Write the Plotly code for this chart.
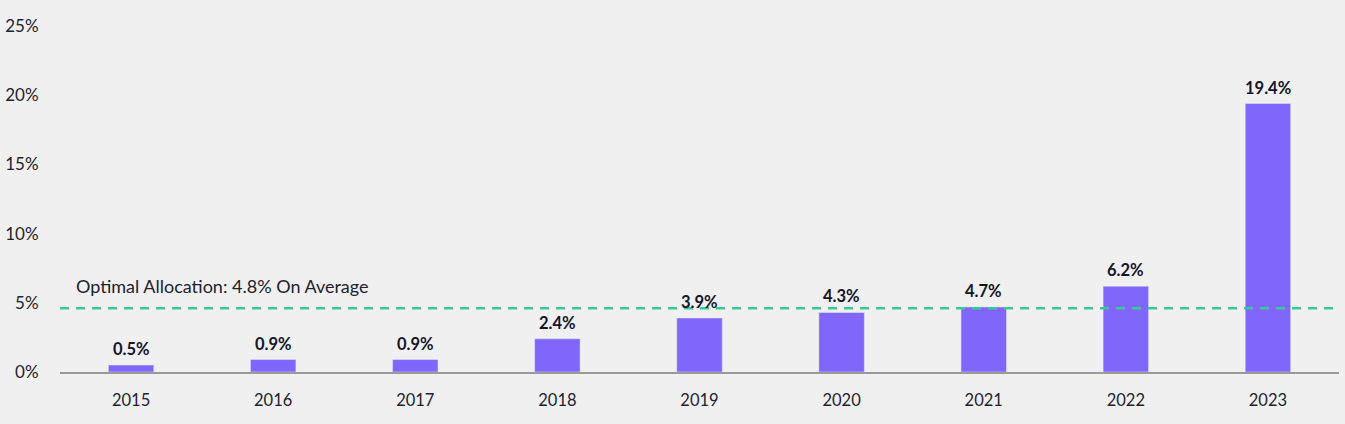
import plotly.graph_objects as go

years = ["2015", "2016", "2017", "2018", "2019", "2020", "2021", "2022", "2023"]
values = [0.5, 0.9, 0.9, 2.4, 3.9, 4.3, 4.7, 6.2, 19.4]
labels = ["0.5%", "0.9%", "0.9%", "2.4%", "3.9%", "4.3%", "4.7%", "6.2%", "19.4%"]
avg_line = 4.6
avg_text = "Optimal Allocation: 4.8% On Average"
y_ticks = [0, 5, 10, 15, 20, 25]
y_ticklabels = ["0%", "5%", "10%", "15%", "20%", "25%"]

BG = "#f0f0f0"
FONT = "Lato, 'Open Sans', sans-serif"
TXT = "#22222e"

fig = go.Figure()
fig.add_trace(go.Bar(
    x=list(range(len(years))), y=values, marker_color="#8066fb", width=0.32,
    hoverinfo="skip",
))

for i, (v, lab) in enumerate(zip(values, labels)):
    fig.add_annotation(x=i, y=v, xref="x", yref="y", text=f"<b>{lab}</b>",
                       showarrow=False, yanchor="bottom", yshift=4,
                       font=dict(size=16.5, color="#15152a", family=FONT))

fig.add_shape(type="line", xref="x domain", yref="y", x0=0, x1=1,
              y0=avg_line, y1=avg_line,
              line=dict(color="#33cc99", width=2.5, dash="9px,7px"))
fig.add_annotation(xref="x domain", yref="y", x=0.011, y=avg_line,
                   text=avg_text, showarrow=False, xanchor="left",
                   yanchor="bottom", yshift=9,
                   font=dict(size=18, color=TXT, family=FONT))

fig.update_layout(
    width=1345, height=424,
    margin=dict(l=60, r=6, t=26, b=52, autoexpand=False),
    paper_bgcolor=BG, plot_bgcolor=BG,
    showlegend=False,
    font=dict(family=FONT, size=16, color=TXT),
)
fig.update_xaxes(
    range=[-0.5, len(years) - 0.5],
    tickvals=list(range(len(years))), ticktext=years,
    showline=True, linecolor="#9a9a9a", linewidth=1.5,
    ticks="outside", ticklen=12, tickcolor=BG, automargin=False,
    showgrid=False, zeroline=False,
    tickfont=dict(size=16.5, color=TXT, family=FONT),
)
fig.update_yaxes(
    range=[0, 25], tickvals=y_ticks, ticktext=y_ticklabels,
    showgrid=False, zeroline=False, showline=False,
    ticks="outside", ticklen=17, tickcolor=BG, automargin=False,
    tickfont=dict(size=17, color=TXT, family=FONT),
)

fig.write_html("out.html")
